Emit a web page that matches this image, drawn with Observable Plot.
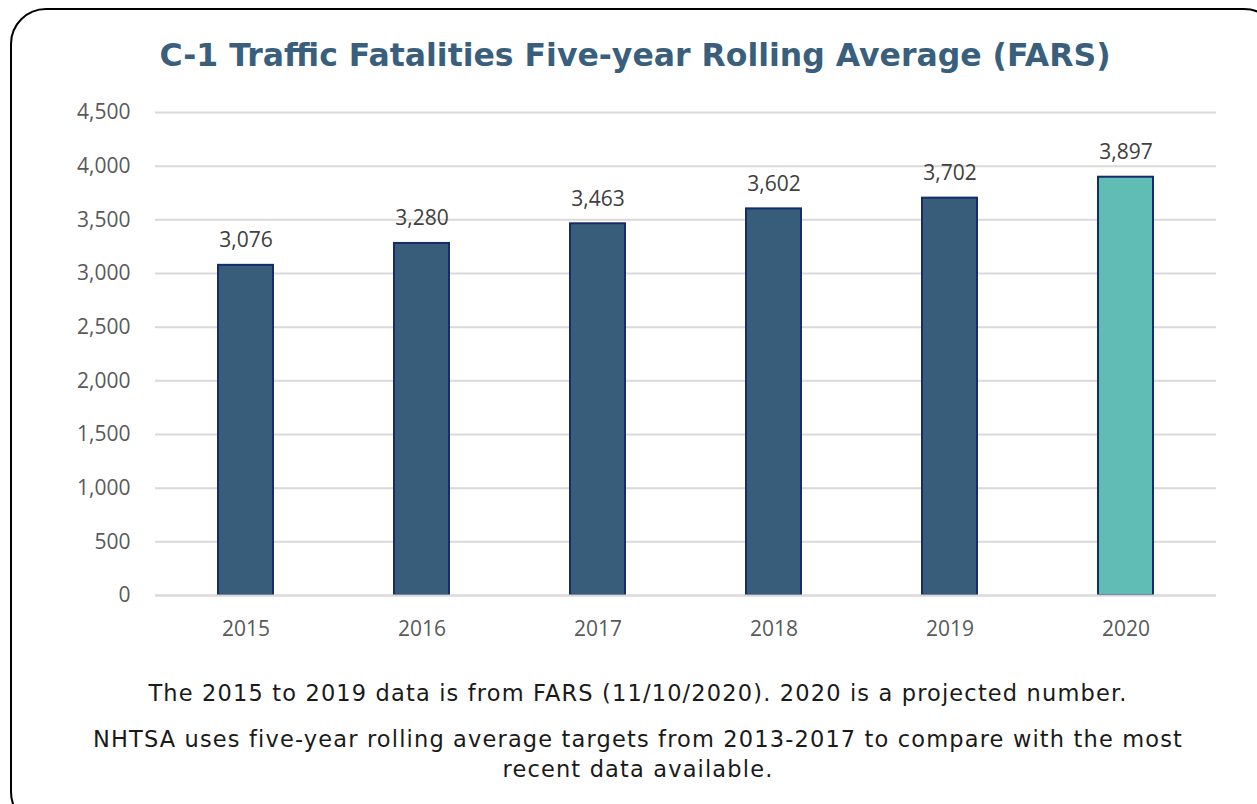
<!DOCTYPE html>
<html>
<head>
<meta charset="utf-8">
<script src="https://cdn.jsdelivr.net/npm/d3@7"></script>
<script src="https://cdn.jsdelivr.net/npm/@observablehq/plot@0.6"></script>
<style>
  html, body { margin: 0; padding: 0; background: #fff; overflow: hidden; }
  #page { position: relative; width: 1257px; height: 804px; overflow: hidden; }
  #frame { position: absolute; left: 10px; top: 8px; width: 1270px; height: 820px;
           border: 2.5px solid #000; border-radius: 36px; box-sizing: border-box; }
  #title { position: absolute; left: 0; top: 36px; width: 1270px; text-align: center;
           font-family: "DejaVu Sans", sans-serif; font-weight: bold; font-size: 31.5px;
           color: #3a5f7d; line-height: 38px; }
  #chart { position: absolute; left: 0; top: 95px; }
  #caption { position: absolute; left: 0; top: 675px; width: 1276px; text-align: center;
             font-family: "DejaVu Sans", sans-serif; font-size: 22.5px; color: #1a1a1a;
             letter-spacing: 1.15px; }
</style>
</head>
<body>
<div id="page">
  <div id="frame"></div>
  <div id="title">C-1 Traffic Fatalities Five-year Rolling Average (FARS)</div>
  <div id="chart"></div>
  <div id="caption">
    <div style="line-height:36px;">The 2015 to 2019 data is from FARS (11/10/2020). 2020 is a projected number.</div>
    <div style="line-height:30px; margin-top:13px;">NHTSA uses five-year rolling average targets from 2013-2017 to compare with the most<br>recent data available.</div>
  </div>
</div>
<script>
const years = ["2015", "2016", "2017", "2018", "2019", "2020"];
const values = [3076, 3280, 3463, 3602, 3702, 3897];
const kinds = ["FARS", "FARS", "FARS", "FARS", "FARS", "Projected"];
const yTicks = [0, 500, 1000, 1500, 2000, 2500, 3000, 3500, 4000, 4500];

const data = years.map((y, i) => ({year: y, value: values[i], kind: kinds[i]}));
const fmt = d3.format(",");

const chart = Plot.plot({
  width: 1257,
  height: 560,
  marginLeft: 155,
  marginRight: 41,
  marginTop: 17,
  marginBottom: 60,
  style: {fontFamily: "'Open Sans', sans-serif", fontSize: "20px", color: "#595959", background: "transparent"},
  x: {domain: years, paddingInner: 0.69, paddingOuter: 0.345, label: null},
  y: {domain: [0, 4500], label: null},
  color: {domain: ["FARS", "Projected"], range: ["#385d7a", "#5fbdb5"]},
  marks: [
    Plot.gridY(yTicks, {stroke: "#d9d9d9", strokeOpacity: 1, strokeWidth: 2}),
    Plot.axisY({ticks: yTicks, tickSize: 0, tickPadding: 25, tickFormat: fmt, fill: "#595959", fontSize: 21}),
    Plot.axisX({tickSize: 0, tickPadding: 26, fill: "#595959", fontSize: 21}),
    Plot.barY(data, {x: "year", y: "value", fill: "kind", stroke: "#142c6b", strokeWidth: 2}),
    Plot.ruleY([0], {stroke: "#d9d9d9", strokeWidth: 2}),
    Plot.text(data, {x: "year", y: "value", text: d => fmt(d.value), dy: -25, fill: "#404040", fontSize: 21, lineAnchor: "middle"})
  ]
});
document.getElementById("chart").appendChild(chart);
</script>
</body>
</html>
